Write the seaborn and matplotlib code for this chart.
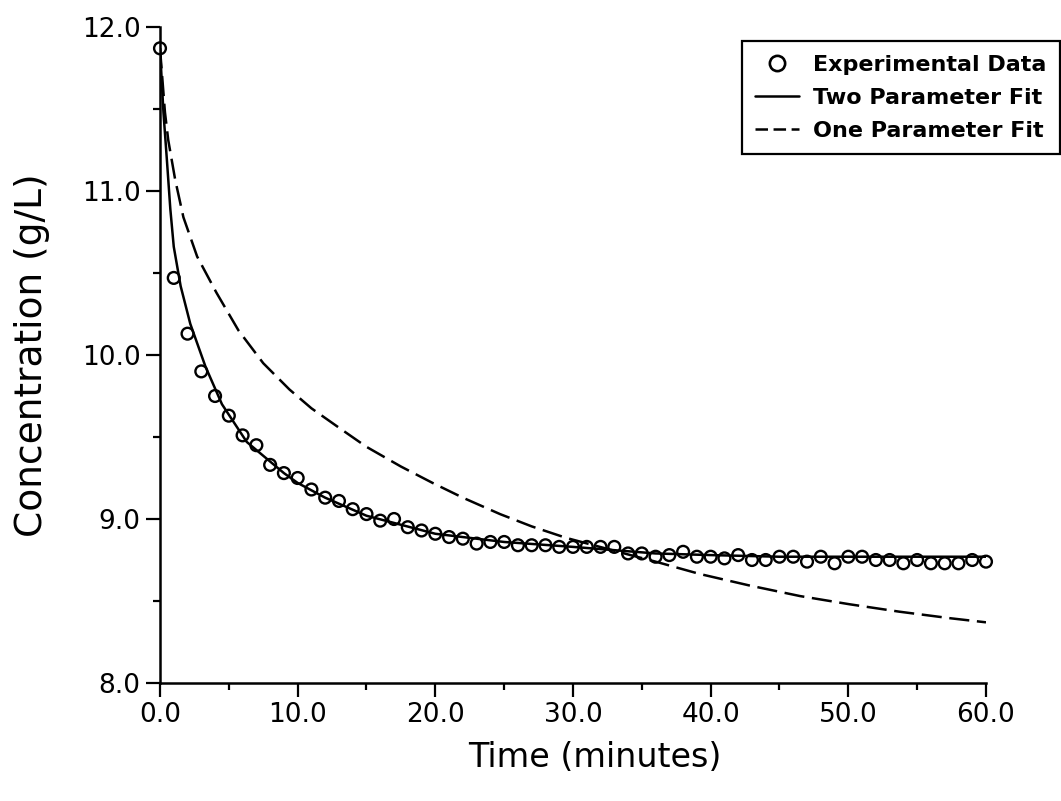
import numpy as np
import pandas as pd
import matplotlib
matplotlib.use("Agg")
import matplotlib.pyplot as plt
from matplotlib.lines import Line2D
from matplotlib.ticker import MultipleLocator, FormatStrFormatter
import seaborn as sns

# Experimental data (one point per minute)
time_exp = list(range(0, 61))
conc_exp = [11.87, 10.47, 10.13, 9.90, 9.75, 9.63, 9.51, 9.45, 9.33, 9.28,
            9.25, 9.18, 9.13, 9.11, 9.06, 9.03, 8.99, 9.00, 8.95, 8.93,
            8.91, 8.89, 8.88, 8.85, 8.86, 8.86, 8.84, 8.84, 8.84, 8.83,
            8.83, 8.83, 8.83, 8.83, 8.79, 8.79, 8.77, 8.78, 8.80, 8.77,
            8.77, 8.76, 8.78, 8.75, 8.75, 8.77, 8.77, 8.74, 8.77, 8.73,
            8.77, 8.77, 8.75, 8.75, 8.73, 8.75, 8.73, 8.73, 8.73, 8.75,
            8.74]

# Two parameter fit
time_two = [0, 0.25, 0.5, 0.75, 1.0, 1.5, 2.2, 3.3, 4.5, 6.3, 9.0, 10.0,
            12.0, 15.0, 20.0, 25.0, 30.0, 33.0, 36.0, 40.0, 45.0, 50.0, 60.0]
conc_two = [11.87, 11.48, 11.19, 10.89, 10.66, 10.42, 10.19, 9.93, 9.70, 9.47,
            9.28, 9.22, 9.13, 9.02, 8.91, 8.86, 8.83, 8.81, 8.79, 8.78, 8.77,
            8.77, 8.77]

# One parameter fit
time_one = [0, 0.36, 0.6, 1.1, 1.7, 2.7, 4.1, 5.7, 7.5, 9.4, 11.0, 13.2, 15.0,
            17.5, 19.8, 22.0, 24.7, 27.0, 29.5, 32.4, 34.4, 36.0, 39.2, 42.8,
            46.5, 50.1, 53.7, 57.4, 60.0]
conc_one = [11.87, 11.48, 11.31, 11.07, 10.84, 10.60, 10.38, 10.15, 9.95, 9.79,
            9.675, 9.545, 9.44, 9.32, 9.22, 9.13, 9.03, 8.955, 8.885, 8.82, 8.775,
            8.74, 8.665, 8.595, 8.53, 8.48, 8.435, 8.395, 8.37]

legend_labels = ["Experimental Data", "Two Parameter Fit", "One Parameter Fit"]

sns.set_theme(style="ticks")
plt.rcParams['font.family'] = ['DejaVu Sans']
plt.rcParams['lines.scale_dashes'] = False

fig = plt.figure(figsize=(10.61, 8.01), dpi=100)
ax = fig.add_axes([0.1508, 0.1473, 0.7785, 0.819])

df_exp = pd.DataFrame({"t": time_exp, "c": conc_exp})
df_two = pd.DataFrame({"t": time_two, "c": conc_two, "fit": "two"})
df_one = pd.DataFrame({"t": time_one, "c": conc_one, "fit": "one"})

lw = 1.8
sns.lineplot(data=df_two, x="t", y="c", ax=ax, color="black", linewidth=lw,
             sort=True, estimator=None, legend=False)
sns.lineplot(data=df_one, x="t", y="c", ax=ax, color="black", linewidth=lw,
             sort=True, estimator=None, style="fit",
             dashes={"one": (14.5, 5.5)}, legend=False)
sns.scatterplot(data=df_exp, x="t", y="c", ax=ax, marker="o", s=72,
                facecolor="none", edgecolor="black", linewidth=1.7,
                clip_on=False, zorder=5, legend=False)

ax.set_xlim(0, 60)
ax.set_ylim(8.0, 12.0)
ax.xaxis.set_major_locator(MultipleLocator(10))
ax.xaxis.set_minor_locator(MultipleLocator(5))
ax.yaxis.set_major_locator(MultipleLocator(1))
ax.yaxis.set_minor_locator(MultipleLocator(0.5))
ax.xaxis.set_major_formatter(FormatStrFormatter("%.1f"))
ax.yaxis.set_major_formatter(FormatStrFormatter("%.1f"))

for side in ["top", "right"]:
    ax.spines[side].set_visible(False)
for side in ["left", "bottom"]:
    ax.spines[side].set_linewidth(1.8)
    ax.spines[side].set_color("black")

ax.tick_params(axis="both", which="major", direction="out", length=10,
               width=1.6, labelsize=19, colors="black", pad=4)
ax.tick_params(axis="both", which="minor", direction="out", length=5,
               width=1.6, colors="black")

ax.set_xlabel("Time (minutes)", fontsize=24, color="black")
ax.set_ylabel("Concentration (g/L)", fontsize=27, color="black")
ax.xaxis.set_label_coords(0.527, -0.088)
ax.yaxis.set_label_coords(-0.133, 0.5)

handles = [
    Line2D([], [], marker="o", linestyle="none", markerfacecolor="none",
           markeredgecolor="black", markersize=11, markeredgewidth=1.9),
    Line2D([], [], color="black", linewidth=lw),
    Line2D([], [], color="black", linewidth=lw, linestyle=(0, (9, 4))),
]
leg = ax.legend(handles, legend_labels, loc="upper right",
                bbox_to_anchor=(1.089, 0.978), frameon=True, fancybox=False,
                edgecolor="black", framealpha=1, handlelength=2.0,
                handletextpad=0.6, borderpad=0.6, labelspacing=0.58,
                borderaxespad=0.0,
                prop={"size": 16, "weight": "bold"})
leg.get_frame().set_linewidth(1.6)
for txt in leg.get_texts():
    txt.set_color("black")

fig.savefig("out.png", dpi=100)
